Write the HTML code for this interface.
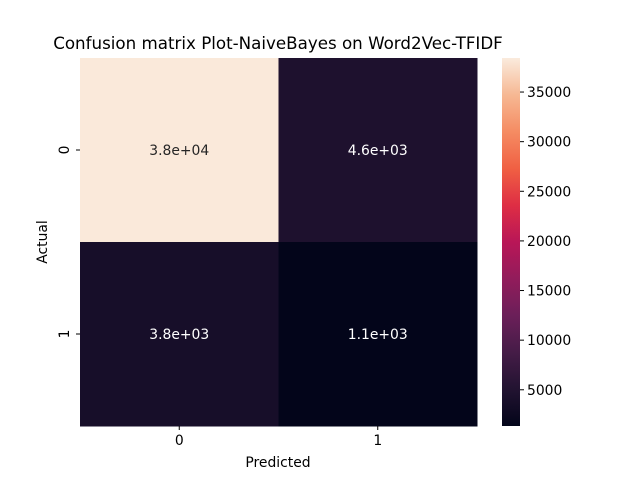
<!DOCTYPE html>
<html><head><meta charset="utf-8"><style>
body{margin:0;background:#fff;}
svg text{font-family:"DejaVu Sans","Liberation Sans",sans-serif;}
</style></head><body>
<svg width="640" height="480" xmlns="http://www.w3.org/2000/svg">
<defs>
<linearGradient id="rocket" x1="0" y1="1" x2="0" y2="0">
<stop offset="0" stop-color="#03051a"/><stop offset="0.1" stop-color="#221331"/>
<stop offset="0.2" stop-color="#451c47"/><stop offset="0.3" stop-color="#6b1f59"/>
<stop offset="0.4" stop-color="#921c5b"/><stop offset="0.5" stop-color="#b91657"/>
<stop offset="0.6" stop-color="#de2e44"/><stop offset="0.7" stop-color="#f06043"/>
<stop offset="0.8" stop-color="#f58c63"/><stop offset="0.9" stop-color="#f6b893"/>
<stop offset="1" stop-color="#faebdd"/>
</linearGradient>
</defs>
<text x="278" y="49" font-size="16.7" text-anchor="middle">Confusion matrix Plot-NaiveBayes on Word2Vec-TFIDF</text>
<g id="cells"></g>
<g id="axes"></g>
<rect x="502" y="58" width="18" height="368" fill="url(#rocket)"/>
<g id="cbar"></g>
<text x="278" y="467" font-size="13.9" text-anchor="middle">Predicted</text>
<text x="0" y="0" font-size="13.9" text-anchor="middle" transform="translate(47,242) rotate(-90)">Actual</text>
</svg>
<script>
const rowLabels=["0","1"];
const colLabels=["0","1"];
const values=[[38300,4600],[3800,1100]];
const valueLabels=[["3.8e+04","4.6e+03"],["3.8e+03","1.1e+03"]];
const cbarTicks=[5000,10000,15000,20000,25000,30000,35000];
const vmin=1350,vmax=38430;
const X0=80,X1=477,Y0=58,Y1=426;
const NS="http://www.w3.org/2000/svg";
const stops=[[0,[3,5,26]],[0.1,[34,19,49]],[0.2,[69,28,71]],[0.3,[107,31,89]],[0.4,[146,28,91]],[0.5,[185,22,87]],[0.6,[222,46,68]],[0.7,[240,96,67]],[0.8,[245,140,99]],[0.9,[246,184,147]],[1,[250,235,221]]];
function cmap(v){let t=Math.max(0,Math.min(1,(v-vmin)/(vmax-vmin)));for(let i=1;i<stops.length;i++){if(t<=stops[i][0]){const a=stops[i-1],b=stops[i];const f=(t-a[0])/(b[0]-a[0]);const c=a[1].map((x,k)=>Math.round(x+(b[1][k]-x)*f));return `rgb(${c})`;}}return "rgb(250,235,221)";}
function mk(tag,attrs,parent){const e=document.createElementNS(NS,tag);for(const k in attrs)e.setAttribute(k,attrs[k]);parent.appendChild(e);return e;}
const cw=(X1-X0)/colLabels.length,ch=(Y1-Y0)/rowLabels.length;
const cells=document.getElementById('cells'),axes=document.getElementById('axes'),cbar=document.getElementById('cbar');
values.forEach((row,i)=>row.forEach((v,j)=>{
 const r=mk('rect',{x:X0+j*cw,y:Y0+i*ch,width:cw+0.5,height:ch+0.5,fill:cmap(v)},cells);
 
 
 const t=mk('text',{x:X0+(j+0.5)*cw,y:Y0+(i+0.5)*ch+5,'font-size':13.9,'text-anchor':'middle',fill:v>(vmin+vmax)/2?'#262626':'#ffffff'},cells);
 t.textContent=valueLabels[i][j];
 
 
}));
colLabels.forEach((l,j)=>{const x=X0+(j+0.5)*cw;
 mk('line',{x1:x,x2:x,y1:Y1,y2:Y1+4,stroke:'#000'},axes);
 const t=mk('text',{x:x,y:Y1+19,'font-size':13.9,'text-anchor':'middle'},axes);t.textContent=l;
 
 });
rowLabels.forEach((l,i)=>{const y=Y0+(i+0.5)*ch;
 mk('line',{x1:X0-4,x2:X0,y1:y,y2:y,stroke:'#000'},axes);
 const t=mk('text',{x:0,y:0,'font-size':13.9,'text-anchor':'middle',transform:`translate(${X0-11},${y}) rotate(-90)`},axes);t.textContent=l;
 
 });
cbarTicks.forEach(v=>{const y=Y1-(v-vmin)/(vmax-vmin)*(Y1-Y0);
 mk('line',{x1:520,x2:524,y1:y,y2:y,stroke:'#000'},cbar);
 const t=mk('text',{x:527,y:y+5,'font-size':13.9},cbar);t.textContent=v;
 
 });
</script>
</body></html>
